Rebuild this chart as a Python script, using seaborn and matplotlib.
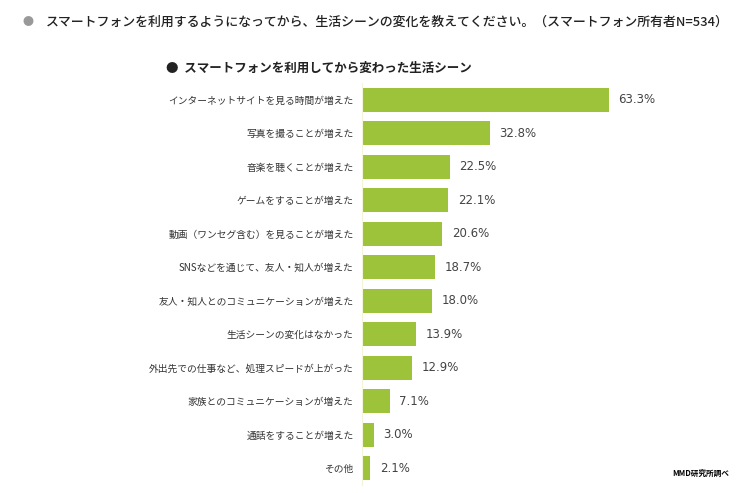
import matplotlib
matplotlib.use("Agg")
import matplotlib.pyplot as plt
import seaborn as sns
import pandas as pd

categories = ["インターネットサイトを見る時間が増えた", "写真を撮ることが増えた", "音楽を聴くことが増えた",
              "ゲームをすることが増えた", "動画（ワンセグ含む）を見ることが増えた", "SNSなどを通じて、友人・知人が増えた",
              "友人・知人とのコミュニケーションが増えた", "生活シーンの変化はなかった",
              "外出先での仕事など、処理スピードが上がった", "家族とのコミュニケーションが増えた",
              "通話をすることが増えた", "その他"]
values = [63.3, 32.8, 22.5, 22.1, 20.6, 18.7, 18.0, 13.9, 12.9, 7.1, 3.0, 2.1]

plt.rcParams["font.family"] = "Noto Sans CJK JP"
df = pd.DataFrame({"cat": categories, "val": values})
fig = plt.figure(figsize=(7.4, 4.93), dpi=100)
ax = fig.add_axes([0.489, 0.016, 0.369, 0.816])
sns.barplot(data=df, x="val", y="cat", color="#9dc33b", saturation=1, width=0.72, ax=ax)
ax.set_xlim(0, 70)
ax.set_xlabel(""); ax.set_ylabel("")
ax.set_xticks([])
for s in ["top", "right", "bottom"]:
    ax.spines[s].set_visible(False)
ax.spines["left"].set_color("#f4f4d8")
ax.tick_params(axis="y", length=0, labelsize=7, pad=6, colors="#333333")
for i, v in enumerate(values):
    ax.text(v + 2.5, i, f"{v:.1f}%", va="center", ha="left", fontsize=8.5, color="#444444",
            family="DejaVu Sans")
fig.text(0.03, 0.955, "●", fontsize=8, color="#999999", va="center")
fig.text(0.062, 0.955, "スマートフォンを利用するようになってから、生活シーンの変化を教えてください。（スマートフォン所有者N=534）",
         fontsize=9.3, va="center", color="#222222", weight="medium")
fig.text(0.225, 0.862, "●  スマートフォンを利用してから変わった生活シーン", fontsize=9, weight="bold",
         va="center", color="#222222")
fig.text(0.985, 0.04, "MMD研究所調べ", fontsize=5.5, ha="right", va="center", weight="bold")
fig.savefig("out.png", dpi=100)
